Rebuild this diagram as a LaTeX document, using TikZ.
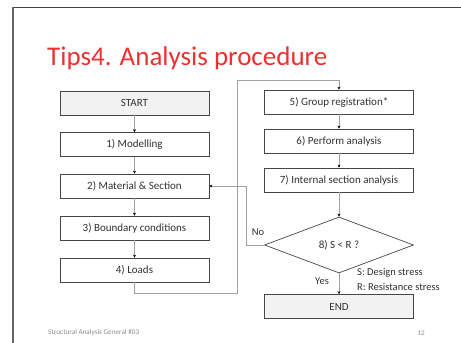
\documentclass[tikz,border=0pt]{standalone}
\usepackage{fontspec}
\setmainfont{Carlito}
\usetikzlibrary{shapes.geometric,arrows.meta}
\definecolor{boxc}{RGB}{70,70,70}
\definecolor{linec}{RGB}{160,160,160}
\definecolor{txt}{RGB}{50,50,50}
\definecolor{fillg}{RGB}{242,242,242}
\definecolor{titlered}{RGB}{235,50,50}
\definecolor{foot}{RGB}{140,140,140}
\begin{document}
\begin{tikzpicture}[x=1pt,y=-1pt,
  stepbox/.style={draw=boxc, line width=0.7pt, minimum width=149, minimum height=24, inner sep=0pt, text=txt, font=\fontsize{11}{13}\selectfont},
  termbox/.style={stepbox, fill=fillg},
  decbox/.style={draw=boxc, line width=0.7pt, shape=diamond, minimum width=149, minimum height=56, inner sep=0pt, text=txt, font=\fontsize{11}{13}\selectfont},
  lbl/.style={text=txt, inner sep=0pt, font=\fontsize{10.5}{12}\selectfont},
  arr/.style={draw=linec, line width=0.7pt, -{Stealth[length=3pt,width=3pt,color=black]}},
  footer/.style={text=foot, inner sep=0pt, font=\fontsize{7.2}{8}\selectfont}]
\useasboundingbox (0,0) rectangle (461,343);
\fill[white] (0,0) rectangle (461,343);
% slide frame
\draw[line width=0.9pt, color=boxc] (461,7.5) -- (13,7.5);
\draw[line width=1.8pt, color=black!60] (13,7) -- (13,343);
% title
\node[anchor=base west, inner sep=0pt, text=titlered, font=\fontsize{27}{31}\selectfont] (title) at (47,65) {Tips4. Analysis procedure};
% left column
\node[termbox] (start) at (134.5,103) {START};
\node[stepbox] (m1) at (134.5,144.5) {1) Modelling};
\node[stepbox] (m2) at (134.5,186) {2) Material \& Section};
\node[stepbox] (m3) at (134.5,228) {3) Boundary conditions};
\node[stepbox] (m4) at (134.5,270) {4) Loads};
% right column
\node[stepbox] (g5) at (339,102) {5) Group registration*};
\node[stepbox] (p6) at (339,141) {6) Perform analysis};
\node[stepbox] (i7) at (339,180) {7) Internal section analysis};
\node[decbox] (d8) at (339,245) {8) S < R ?};
\node[termbox] (fin) at (339,306.5) {END};
% connectors
\draw[arr] (start) -- (m1);
\draw[arr] (m1) -- (m2);
\draw[arr] (m2) -- (m3);
\draw[arr] (m3) -- (m4);
\coordinate (c1) at (237,293);
\coordinate (c2) at (237,80);
\draw[arr] (m4.south) |- (c1) -- (c2) -| (g5.north);
\draw[arr] (g5) -- (p6);
\draw[arr] (p6) -- (i7);
\draw[arr] (i7) -- (d8);
\draw[arr] (d8) -- (fin);
\coordinate (n1) at (246,245);
\draw[arr] (d8.west) -- (n1) |- (m2.east);
% labels
\node[lbl] (no) at (258,232) {No};
\node[lbl] (yes) at (322,281) {Yes};
\node[lbl, anchor=west] (s) at (357,273) {S: Design stress};
\node[lbl, anchor=west] (r) at (357,287) {R: Resistance stress};
% footer
\node[footer, anchor=west] (ft) at (48,333) {Structural Analysis General \#03};
\node[footer] (pg) at (421,333) {12};
\end{tikzpicture}
\end{document}
